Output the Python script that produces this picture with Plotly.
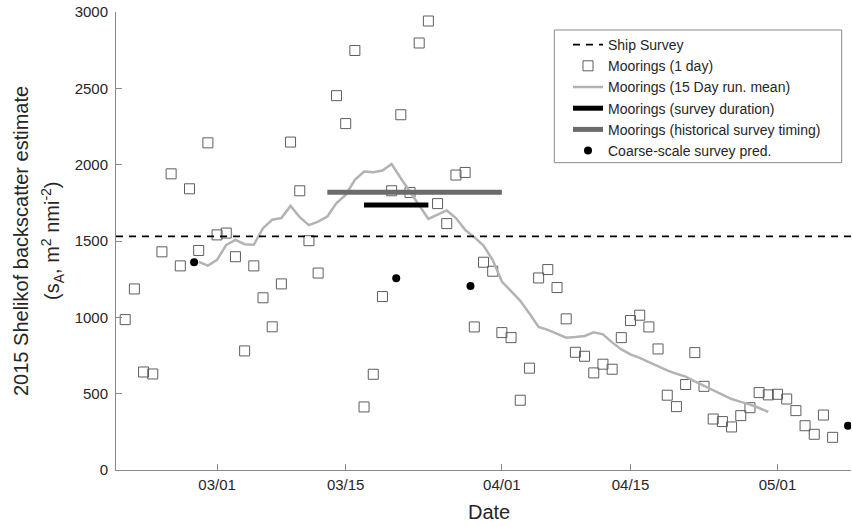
import plotly.graph_objects as go

# ---------------- data ----------------
day_dates = (
    [f"2015-02-{d:02d}" for d in range(19, 29)]
    + [f"2015-03-{d:02d}" for d in range(1, 13)]
    + [f"2015-03-{d:02d}" for d in range(14, 32)]
    + [f"2015-04-{d:02d}" for d in range(1, 31)]
    + [f"2015-05-{d:02d}" for d in range(1, 8)]
)
day_values = [
    985, 1186, 642, 629, 1429, 1940, 1337, 1842, 1438, 2143,          # Feb 19-28
    1540, 1552, 1397, 780, 1337, 1128, 938, 1219, 2148, 1829, 1502, 1290,  # Mar 1-12
    2452, 2269, 2748, 413, 627, 1136, 1829, 2327, 1818, 2797, 2941,   # Mar 14-24
    1745, 1614, 1932, 1949, 937, 1361, 1302,                          # Mar 25-31
    900, 867, 457, 667, 1258, 1313, 1195, 990, 771, 745, 636, 693,    # Apr 1-12
    660, 867, 979, 1014, 937, 793, 490, 415, 560, 769, 548, 334,      # Apr 13-24
    317, 282, 356, 408, 507, 492,                                     # Apr 25-30
    496, 465, 389, 290, 234, 360, 214,                                # May 1-7
]

mean_dates = (
    ["2015-02-27", "2015-02-28"]
    + [f"2015-03-{d:02d}" for d in range(1, 32)]
    + [f"2015-04-{d:02d}" for d in range(1, 31)]
)
mean_values = [
    1363, 1339,
    1376, 1475, 1507, 1479, 1475, 1584, 1639, 1650, 1730, 1656, 1604, 1627,
    1660, 1748, 1802, 1901, 1955, 1951, 1962, 2004, 1911, 1821, 1731, 1645,
    1673, 1700, 1650, 1573, 1525, 1470, 1375,
    1234, 1172, 1108, 1025, 937, 918, 891, 867, 871, 878, 902, 889, 836, 790,
    757, 735, 706, 678, 652, 630, 612, 581, 551, 522, 492, 465, 446, 429,
    406, 380,
]

ship_survey_value = 1530
x_range = ["2015-02-18", "2015-05-09"]

survey_duration_dates = ["2015-03-17", "2015-03-24"]
survey_duration_value = 1735

historical_dates = ["2015-03-13", "2015-04-01"]
historical_value = 1820

coarse_dates = ["2015-02-26 12:00", "2015-03-20 12:00", "2015-03-28 14:00", "2015-05-08 16:00"]
coarse_values = [1361, 1256, 1206, 290]

x_tickvals = ["2015-03-01", "2015-03-15", "2015-04-01", "2015-04-15", "2015-05-01"]
x_ticktext = ["03/01", "03/15", "04/01", "04/15", "05/01"]
y_tickvals = [0, 500, 1000, 1500, 2000, 2500, 3000]

# ---------------- layout constants ----------------
W, H = 852, 527
ML, MR, MT, MB = 116, 1, 12, 57
PW, PH = W - ML - MR, H - MT - MB


def px_x(p):
    return (p - ML) / PW


def px_y(p):
    return (H - MB - p) / PH


FONT = "Liberation Sans, Arial, sans-serif"
TXT = "#262626"
AX = "#8a8a8a"

fig = go.Figure()

fig.add_trace(go.Scatter(
    x=day_dates, y=day_values, mode="markers", name="Moorings (1 day)",
    legendgroup="g2", legendrank=2,
    marker=dict(symbol="square-open", size=10, color="#5e5e5e", line=dict(width=1, color="#5e5e5e")),
))
fig.add_trace(go.Scatter(
    x=mean_dates, y=mean_values, mode="lines", name="Moorings (15 Day run. mean)",
    legendgroup="g3", legendrank=3,
    line=dict(color="#b3b3b3", width=2.5),
))
fig.add_trace(go.Scatter(
    x=historical_dates, y=[historical_value] * len(historical_dates), mode="lines",
    name="Moorings (historical survey timing)", legendgroup="g5", legendrank=5,
    line=dict(color="#6b6b6b", width=5),
))
fig.add_trace(go.Scatter(
    x=survey_duration_dates, y=[survey_duration_value] * len(survey_duration_dates), mode="lines",
    name="Moorings (survey duration)", legendgroup="g4", legendrank=4,
    line=dict(color="#000000", width=5),
))
fig.add_trace(go.Scatter(
    x=x_range, y=[ship_survey_value] * len(x_range), mode="lines", name="Ship Survey",
    legendgroup="g1", legendrank=1,
    line=dict(color="#000000", width=1.6, dash="7px,6px"),
))
fig.add_trace(go.Scatter(
    x=coarse_dates, y=coarse_values, mode="markers", name="Coarse-scale survey pred.",
    legendgroup="g6", legendrank=6,
    marker=dict(symbol="circle", size=8, color="#000000"),
))

# legend frame
fig.add_shape(
    type="rect", xref="paper", yref="paper",
    x0=px_x(554.3), x1=px_x(841.7), y0=px_y(162.7), y1=px_y(30),
    line=dict(color="#8a8a8a", width=1), fillcolor="white", layer="above",
)

fig.update_layout(
    width=W, height=H,
    margin=dict(l=ML, r=MR, t=MT, b=MB),
    paper_bgcolor="white", plot_bgcolor="white",
    font=dict(family=FONT, size=15, color=TXT),
    showlegend=True,
    legend=dict(
        x=px_x(568), y=px_y(29), xanchor="left", yanchor="top",
        bgcolor="rgba(0,0,0,0)", borderwidth=0,
        font=dict(family=FONT, size=14, color=TXT),
        tracegroupgap=0,
    ),
    xaxis=dict(
        type="date", range=x_range,
        tickmode="array", tickvals=x_tickvals, ticktext=x_ticktext,
        ticks="inside", ticklen=6, tickcolor=AX, tickwidth=1,
        showline=True, linecolor=AX, linewidth=1,
        showgrid=False, zeroline=False,
        tickfont=dict(family=FONT, size=15, color=TXT),
        ticklabelstandoff=1,
    ),
    yaxis=dict(
        range=[0, 3000], tickmode="array", tickvals=y_tickvals,
        ticks="inside", ticklen=6, tickcolor=AX, tickwidth=1,
        showline=True, linecolor=AX, linewidth=1,
        showgrid=False, zeroline=False,
        tickfont=dict(family=FONT, size=15, color=TXT),
        ticklabelstandoff=4,
    ),
    annotations=[
        dict(text="Date", xref="paper", yref="paper", x=px_x(489), y=px_y(511.7),
             xanchor="center", yanchor="middle", showarrow=False,
             font=dict(family=FONT, size=20, color=TXT)),
        dict(text="2015 Shelikof backscatter estimate", xref="paper", yref="paper",
             x=px_x(21), y=px_y(241), xanchor="center", yanchor="middle",
             textangle=-90, showarrow=False, font=dict(family=FONT, size=20, color=TXT)),
        dict(text="(s<sub>A</sub>, m<sup>2</sup> nmi<sup>-2</sup>)", xref="paper", yref="paper",
             x=px_x(52), y=px_y(241), xanchor="center", yanchor="middle",
             textangle=-90, showarrow=False, font=dict(family=FONT, size=20, color=TXT)),
    ],
)

fig.write_html("out.html")
